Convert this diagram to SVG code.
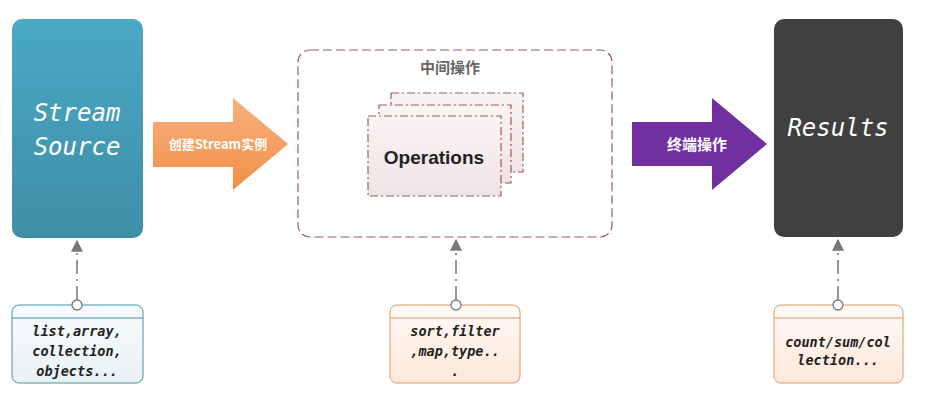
<svg xmlns="http://www.w3.org/2000/svg" width="925" height="404" viewBox="0 0 925 404">
<defs>
<linearGradient id="gBlue" x1="0" y1="0" x2="0" y2="1"><stop offset="0" stop-color="#4aa9c5"/><stop offset="1" stop-color="#3f8ea6"/></linearGradient>
<linearGradient id="gOrange" x1="0" y1="0" x2="0" y2="1"><stop offset="0" stop-color="#f7b07f"/><stop offset="1" stop-color="#f28f45"/></linearGradient>
<linearGradient id="gOp" x1="0" y1="0" x2="0" y2="1"><stop offset="0" stop-color="#faf3f3"/><stop offset="1" stop-color="#efe3e5"/></linearGradient>
<linearGradient id="gNoteB" x1="0" y1="0" x2="0" y2="1"><stop offset="0" stop-color="#f7fbfd"/><stop offset="1" stop-color="#e9f1f6"/></linearGradient>
<linearGradient id="gNoteO" x1="0" y1="0" x2="0" y2="1"><stop offset="0" stop-color="#fffaf6"/><stop offset="1" stop-color="#fde8d9"/></linearGradient>
<marker id="ah" viewBox="0 0 10 10" refX="9" refY="5" markerWidth="8" markerHeight="8" orient="auto"><path d="M0,0 L10,5 L0,10 z" fill="#777"/></marker>
</defs>
<style>
.mono{font-family:"DejaVu Sans Mono","Liberation Mono",monospace;font-style:italic}
.big{font-size:24px;fill:#fff}
.note{font-size:13.5px;font-weight:bold;fill:#222}
.op{fill:url(#gOp);stroke:#9c5a5e;stroke-width:1.2;stroke-dasharray:8 3 2 3}
.conn{stroke:#777;stroke-width:1.5;fill:none;stroke-dasharray:14 5 2 5}
.cjk{font-family:"Noto Sans CJK SC",sans-serif;font-weight:bold}
</style>
<rect width="925" height="404" fill="#fff"/>
<g id="source">
<rect x="12" y="19" width="131" height="219" rx="10" fill="url(#gBlue)"/>
<text class="mono big" x="77" y="121" text-anchor="middle">Stream</text>
<text class="mono big" x="77" y="155" text-anchor="middle">Source</text>
</g>
<g id="create">
<path d="M153,122 H233 V98 L288,144 L233,190 V167 H153 z" fill="url(#gOrange)"/>
<text x="218" y="149" text-anchor="middle" font-size="13" fill="#fff" class="cjk">创建Stream实例</text>
</g>
<g id="middle">
<rect x="298" y="50" width="314" height="187" rx="12" fill="none" stroke="#9c5a5e" stroke-width="1.2" stroke-dasharray="9 4"/>
<text x="450" y="73" text-anchor="middle" font-size="15" fill="#666" class="cjk">中间操作</text>
<rect class="op" x="391" y="93" width="132" height="79"/>
<rect class="op" x="379" y="105" width="132" height="78"/>
<rect class="op" x="368" y="116" width="133" height="80"/>
<text x="434" y="164" text-anchor="middle" font-family="Liberation Sans,Arial,sans-serif" font-weight="bold" font-size="19" fill="#222">Operations</text>
</g>
<g id="terminal">
<path d="M632,122 H712 V98 L767,144 L712,190 V166 H632 z" fill="#7030a0"/>
<text x="697" y="150" text-anchor="middle" font-size="15" fill="#fff" class="cjk">终端操作</text>
</g>
<g id="results">
<rect x="774" y="19" width="129" height="218" rx="10" fill="#404040"/>
<text class="mono big" x="838" y="136" text-anchor="middle">Results</text>
</g>
<g id="connectors">
<line class="conn" x1="77" y1="300" x2="77" y2="241" marker-end="url(#ah)"/>
<line class="conn" x1="456" y1="300" x2="456" y2="240" marker-end="url(#ah)"/>
<line class="conn" x1="838" y1="300" x2="838" y2="240" marker-end="url(#ah)"/>
</g>
<g id="note1">
<rect x="12" y="305" width="131" height="78" rx="7" fill="url(#gNoteB)" stroke="#4b8fa8"/>
<line x1="12" y1="318" x2="143" y2="318" stroke="#4b8fa8"/>
<circle cx="77" cy="305" r="5" fill="#fff" stroke="#777" stroke-width="1.3"/>
<text class="mono note" x="77" y="336" text-anchor="middle">list,array,</text>
<text class="mono note" x="77" y="356" text-anchor="middle">collection,</text>
<text class="mono note" x="77" y="376" text-anchor="middle">objects...</text>
</g>
<g id="note2">
<rect x="390" y="305" width="130" height="78" rx="7" fill="url(#gNoteO)" stroke="#d99a6c"/>
<line x1="390" y1="318" x2="520" y2="318" stroke="#d99a6c"/>
<circle cx="456" cy="305" r="5" fill="#fff" stroke="#777" stroke-width="1.3"/>
<text class="mono note" x="455" y="336" text-anchor="middle">sort,filter</text>
<text class="mono note" x="455" y="356" text-anchor="middle">,map,type..</text>
<text class="mono note" x="455" y="376" text-anchor="middle">.</text>
</g>
<g id="note3">
<rect x="774" y="305" width="129" height="78" rx="7" fill="url(#gNoteO)" stroke="#d99a6c"/>
<line x1="774" y1="318" x2="903" y2="318" stroke="#d99a6c"/>
<circle cx="838" cy="305" r="5" fill="#fff" stroke="#777" stroke-width="1.3"/>
<text class="mono note" x="838" y="347" text-anchor="middle" font-size="12">count/sum/col</text>
<text class="mono note" x="838" y="365" text-anchor="middle" font-size="12">lection...</text>
</g>
</svg>
